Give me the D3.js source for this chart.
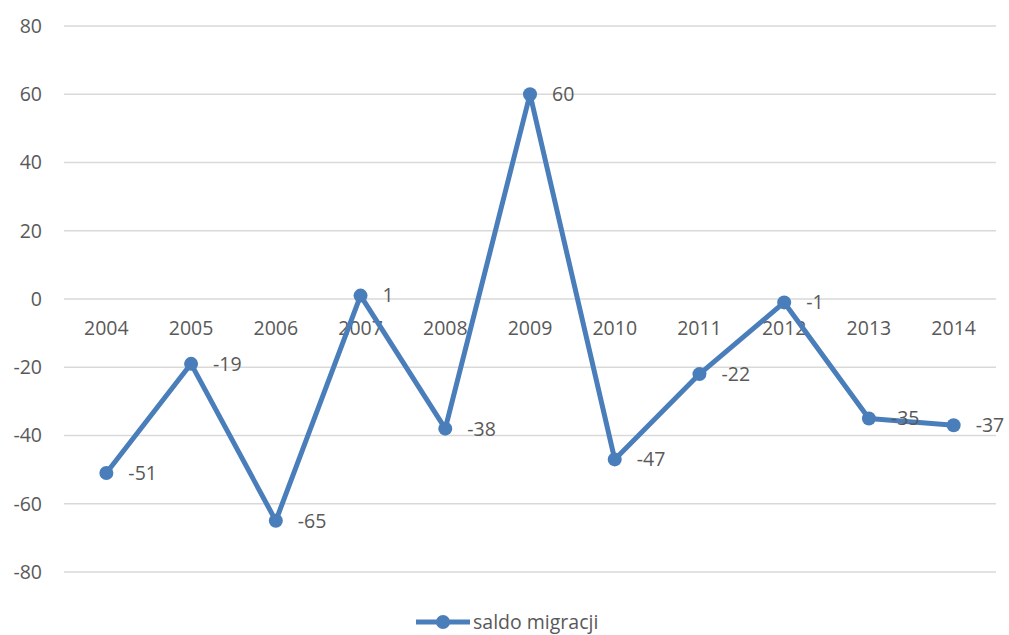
<!DOCTYPE html>
<html>
<head>
<meta charset="utf-8">
<script src="https://cdn.jsdelivr.net/npm/d3@7"></script>
<style>
  body { margin: 0; background: #fff; }
  text { font-family: "Open Sans", "Liberation Sans", sans-serif; fill: #595959; }
</style>
</head>
<body>
<svg id="chart" width="1009" height="635"></svg>
<script>
var years = ["2004","2005","2006","2007","2008","2009","2010","2011","2012","2013","2014"];
var saldo = [-51, -19, -65, 1, -38, 60, -47, -22, -1, -35, -37];
var yTicks = [-80, -60, -40, -20, 0, 20, 40, 60, 80];
var seriesName = "saldo migracji";

var svg = d3.select("#chart"),
    margin = {top: 26, right: 13, bottom: 63, left: 64},
    width = +svg.attr("width") - margin.left - margin.right,
    height = +svg.attr("height") - margin.top - margin.bottom,
    g = svg.append("g").attr("transform", "translate(" + margin.left + "," + margin.top + ")");

var color = "#4a7ebb";
var fs = "19.5px";

var x = d3.scaleBand().domain(years).range([0, width]);
var y = d3.scaleLinear().domain([-80, 80]).range([height, 0]);

// gridlines
g.append("g")
  .selectAll("line")
  .data(yTicks)
  .enter().append("line")
    .attr("x1", 0)
    .attr("x2", width)
    .attr("y1", function(d) { return y(d); })
    .attr("y2", function(d) { return y(d); })
    .attr("stroke", "#d9d9d9")
    .attr("stroke-width", 1.3);

// y axis labels (plain hyphen minus like the original)
var yAxis = g.append("g")
  .call(d3.axisLeft(y).tickValues(yTicks).tickSize(0).tickPadding(22)
    .tickFormat(function(d) { return String(d); }));
yAxis.select(".domain").remove();
yAxis.selectAll("text")
  .style("font-size", fs)
  .attr("fill", "#595959");

// x axis labels sit just under the zero line
var xAxis = g.append("g")
  .attr("transform", "translate(0," + y(0) + ")")
  .call(d3.axisBottom(x).tickSize(0).tickPadding(22));
xAxis.select(".domain").remove();
xAxis.selectAll("text")
  .style("font-size", fs)
  .attr("fill", "#595959");

var line = d3.line()
  .x(function(d, i) { return x(years[i]) + x.bandwidth() / 2; })
  .y(function(d) { return y(d); });

g.append("path")
  .datum(saldo)
  .attr("fill", "none")
  .attr("stroke", color)
  .attr("stroke-width", 5)
  .attr("stroke-linejoin", "round")
  .attr("d", line);

g.selectAll(".dot")
  .data(saldo)
  .enter().append("circle")
    .attr("class", "dot")
    .attr("cx", function(d, i) { return x(years[i]) + x.bandwidth() / 2; })
    .attr("cy", function(d) { return y(d); })
    .attr("r", 7)
    .attr("fill", color);

g.selectAll(".lbl")
  .data(saldo)
  .enter().append("text")
    .attr("class", "lbl")
    .attr("x", function(d, i) { return x(years[i]) + x.bandwidth() / 2 + 22; })
    .attr("y", function(d) { return y(d); })
    .attr("dy", "0.35em")
    .style("font-size", fs)
    .text(function(d) { return d; });

// legend
var leg = svg.append("g").attr("transform", "translate(416,622)");
leg.append("line")
  .attr("x1", 0).attr("x2", 54)
  .attr("stroke", color)
  .attr("stroke-width", 5);
leg.append("circle")
  .attr("cx", 27).attr("r", 7)
  .attr("fill", color);
leg.append("text")
  .attr("x", 57)
  .attr("dy", "0.35em")
  .style("font-size", fs)
  .text(seriesName);
</script>
</body>
</html>
